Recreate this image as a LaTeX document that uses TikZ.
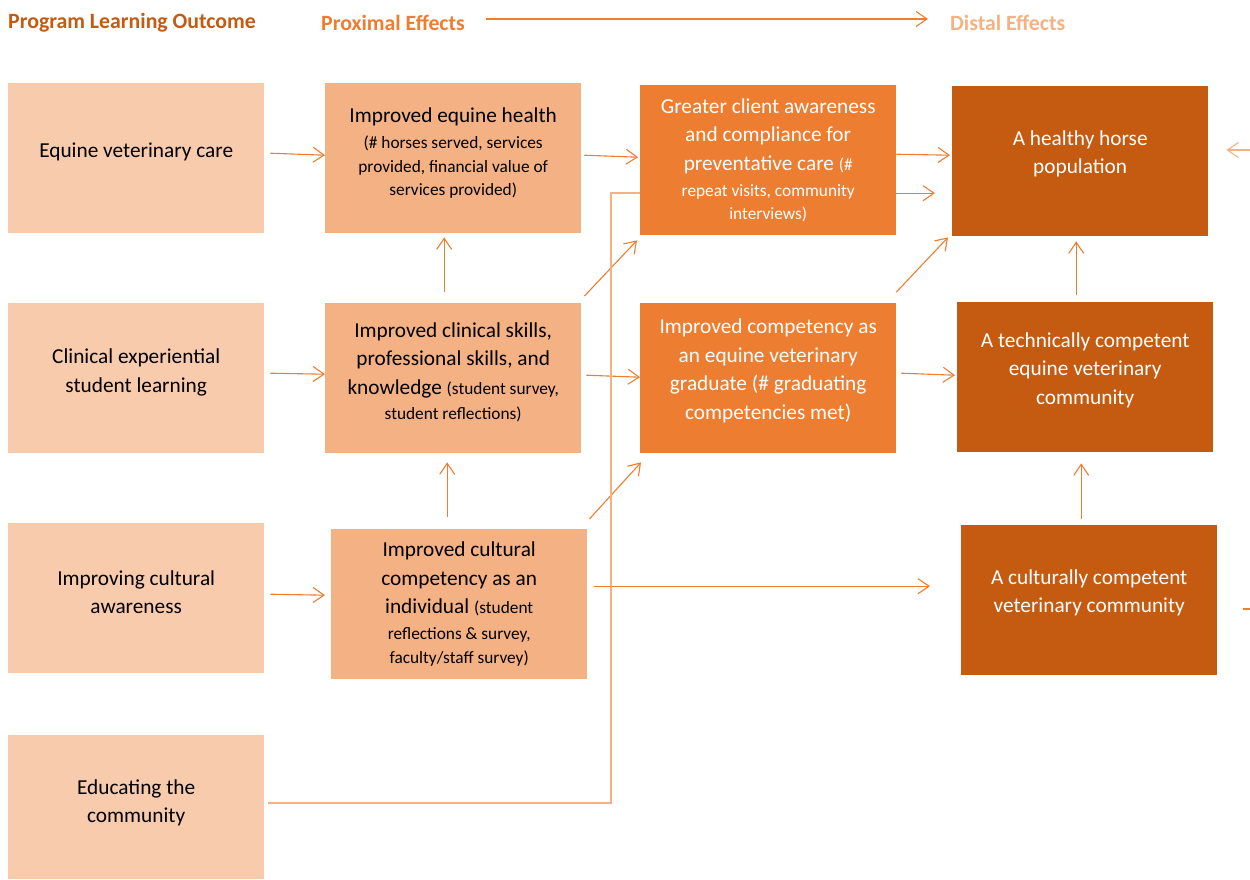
\documentclass[tikz,border=0pt]{standalone}
\usepackage{fontspec}
\setmainfont{Carlito}
\usetikzlibrary{arrows.meta,calc}
\definecolor{pA}{HTML}{F8CBAD}
\definecolor{pB}{HTML}{F4B183}
\definecolor{pC}{HTML}{ED7D31}
\definecolor{pD}{HTML}{C55A11}
\newcommand{\smtxt}{\fontsize{17.3}{23.5}\selectfont}
\newcommand{\bgtxt}{\fontsize{21.3}{28.5}\selectfont}
\tikzset{
  box/.style={minimum width=256, minimum height=150, inner sep=0pt, text width=250, align=flush center, anchor=north west, font=\bgtxt},
  lift/.style={execute at end node={\par\vspace*{#1pt}}},
  lvA/.style={box, fill=pA, text=black},
  lvB/.style={box, fill=pB, text=black},
  lvC/.style={box, fill=pC, text=white},
  lvD/.style={box, fill=pD, text=white},
  hdr/.style={font=\fontsize{21.8}{26}\selectfont\bfseries, anchor=west, inner sep=0pt},
  arr/.style={draw=pC, line width=1.1pt, -{Straight Barb[length=11pt,width=15pt,line width=1.1pt]}},
  arrL/.style={draw=pB, line width=1.4pt, -{Straight Barb[length=11pt,width=15pt,line width=1.1pt]}},
  lineL/.style={draw=pB, line width=1.6pt},
}
\begin{document}
\begin{tikzpicture}[x=1pt,y=-1pt]
\useasboundingbox (0,0) rectangle (1250,879);
% headers
\node[hdr, text=pD] (hPLO) at (8,23) {Program Learning Outcome};
\node[hdr, text=pC] (hPE) at (321,23) {Proximal Effects};
\node[hdr, text=pB] (hDE) at (950,23) {Distal Effects};
\draw[arr] ([shift={(21,-4)}]hPE.east) -- ([shift={(-22,-4)}]hDE.west);
% column 1
\node[lvA, lift=12] (a1) at (8,83) {Equine veterinary care};
\node[lvA, lift=12] (a2) at (8,303) {Clinical experiential\\ student learning};
\node[lvA, lift=12] (a3) at (8,523) {Improving cultural\\ awareness};
\node[lvA, lift=9, minimum height=144] (a4) at (8,735) {Educating the\\ community};
% column 2
\node[lvB, lift=10] (b1) at (325,83) {Improved equine health\\[2.5pt]{\smtxt (\# horses served, services\\ provided, financial value of\\ services provided)\par}};
\node[lvB, lift=12] (b2) at (325,303) {Improved clinical skills,\\ professional skills, and\\[5pt] knowledge {\smtxt (student survey,\\[1.5pt] student reflections)\par}};
\node[lvB] (b3) at (331,529) {Improved cultural\\ competency as an\\[5pt] individual {\smtxt (student\\[2.5pt] reflections \& survey,\\ faculty/staff survey)\par}};
% column 3
\node[lvC] (c1) at (640,85) {Greater client awareness\\ and compliance for\\[5pt] preventative care {\smtxt (\#\\[2.5pt] repeat visits, community\\ interviews)\par}};
\node[lvC, lift=15] (c2) at (640,303) {Improved competency as\\ an equine veterinary\\ graduate (\# graduating\\ competencies met)};
% column 4
\node[lvD, lift=15] (d1) at (952,86) {A healthy horse\\ population};
\node[lvD, lift=14] (d2) at (957,302) {A technically competent\\ equine veterinary\\ community};
\node[lvD, lift=15] (d3) at (961,525) {A culturally competent\\ veterinary community};
% col1 -> col2
\draw[arr] ([shift={(6,-5)}]a1.east) -- ([shift={(0,-3)}]b1.west);
\draw[arr] ([shift={(6,-5)}]a2.east) -- ([shift={(0,-4)}]b2.west);
\draw[arr] ([shift={(6,-4)}]a3.east) -- ([shift={(-6,-9)}]b3.west);
% col2 internal
\draw[arr] ([shift={(-9,-11)}]b2.north) -- ([shift={(-9,4)}]b1.south);
\draw[arr] ([shift={(-12,-12)}]b3.north) -- ([shift={(-6,9)}]b2.south);
% col2 -> col3
\draw[arr] ([shift={(3,-3)}]b1.east) -- ([shift={(-2,-3)}]c1.west);
\draw[arr] ([shift={(3,-7)}]b2.north east) -- ([shift={(-3,5)}]c1.south west);
\draw[arr] ([shift={(5,-3)}]b2.east) -- ([shift={(0,-1)}]c2.west);
\draw[arr] ([shift={(2,-10)}]b3.north east) -- ([shift={(1,9)}]c2.south west);
\draw[arr] ([shift={(7,-18)}]b3.east) -- ([shift={(-31,-14)}]d3.west);
% col3 -> col4
\draw[arr] ([shift={(0,-6)}]c1.east) -- ([shift={(-2,-6)}]d1.west);
\draw[arr] ([shift={(0,33)}]c1.east) -- ([shift={(-17,32)}]d1.west);
\draw[arr] ([shift={(0,-11)}]c2.north east) -- ([shift={(-4,1)}]d1.south west);
\draw[arr] ([shift={(5,-5)}]c2.east) -- ([shift={(-2,-2)}]d2.west);
% col4 internal
\draw[arr] ([shift={(-9,-7)}]d2.north) -- ([shift={(-4,5)}]d1.south);
\draw[arr] ([shift={(-8,-6)}]d3.north) -- ([shift={(-4,11)}]d2.south);
% educating the community line
\coordinate (bend) at (611,193);
\draw[lineL] ([shift={(4,-4)}]a4.east) -| (bend) -- (bend -| c1.west);
% cut-off elements at the right edge
\coordinate (cutA) at (1252,150);
\coordinate (cutB) at (1243,609);
\coordinate (cutC) at (1252,609);
\draw[arrL] (cutA) -- ([xshift=18]d1.east |- cutA);
\draw[draw=pC, line width=1.4pt] (cutB) -- (cutC);
\end{tikzpicture}
\end{document}
